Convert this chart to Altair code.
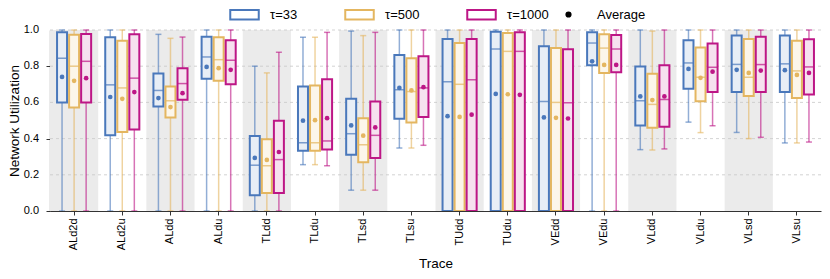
import altair as alt
import pandas as pd

traces = ["ALd2d", "ALd2u", "ALdd", "ALdu", "TLdd", "TLdu", "TLsd", "TLsu",
          "TUdd", "TUdu", "VEdd", "VEdu", "VLdd", "VLdu", "VLsd", "VLsu"]
taus = ["τ=33", "τ=500", "τ=1000"]
colors = ["#4a78bb", "#e4b660", "#bd1686"]

# tau = 33
low_33 = [0, 0, 0, 0, 0, 0.256, 0.115, 0.348, 0, 0, 0, 0, 0.339, 0.491, 0.434, 0.376]
q1_33 = [0.60, 0.418, 0.578, 0.73, 0.087, 0.333, 0.311, 0.51, 0, 0, 0, 0.805, 0.473, 0.675, 0.658, 0.658]
med_33 = [0.844, 0.697, 0.666, 0.851, 0.253, 0.377, 0.427, 0.67, 0.714, 0.895, 0.605, 0.928, 0.609, 0.818, 0.81, 0.813]
q3_33 = [0.987, 0.96, 0.76, 0.963, 0.414, 0.688, 0.62, 0.862, 0.95, 0.99, 0.91, 0.987, 0.798, 0.943, 0.969, 0.969]
high_33 = [1, 1, 0.976, 1, 0.80, 0.96, 0.994, 1, 1, 1, 1, 1, 1, 1, 1, 1]
mean_33 = [0.741, 0.63, 0.624, 0.796, 0.293, 0.499, 0.473, 0.68, 0.524, 0.647, 0.517, 0.827, 0.633, 0.785, 0.78, 0.778]

# tau = 500
low_500 = [0, 0, 0, 0, 0, 0.256, 0.115, 0.348, 0, 0, 0, 0, 0.337, 0.433, 0.40, 0.376]
q1_500 = [0.572, 0.436, 0.517, 0.719, 0.10, 0.333, 0.269, 0.489, 0, 0, 0, 0.763, 0.46, 0.607, 0.635, 0.625]
med_500 = [0.80, 0.68, 0.609, 0.836, 0.25, 0.377, 0.366, 0.66, 0.70, 0.882, 0.60, 0.90, 0.589, 0.739, 0.739, 0.774]
q3_500 = [0.974, 0.94, 0.688, 0.96, 0.396, 0.694, 0.513, 0.844, 0.928, 0.983, 0.90, 0.976, 0.758, 0.903, 0.95, 0.941]
high_500 = [1, 1, 0.954, 1, 0.763, 0.96, 0.969, 1, 1, 1, 1, 1, 0.994, 1, 1, 1]
mean_500 = [0.719, 0.62, 0.574, 0.789, 0.282, 0.502, 0.416, 0.666, 0.52, 0.645, 0.515, 0.807, 0.613, 0.736, 0.763, 0.752]

# tau = 1000
low_1000 = [0, 0, 0, 0, 0, 0.25, 0.115, 0.363, 0, 0, 0, 0, 0.343, 0.471, 0.407, 0.381]
q1_1000 = [0.60, 0.45, 0.614, 0.70, 0.10, 0.34, 0.293, 0.52, 0, 0, 0, 0.767, 0.466, 0.658, 0.657, 0.644]
med_1000 = [0.827, 0.734, 0.704, 0.833, 0.284, 0.387, 0.418, 0.68, 0.725, 0.882, 0.598, 0.895, 0.616, 0.794, 0.809, 0.796]
q3_1000 = [0.978, 0.976, 0.789, 0.943, 0.499, 0.728, 0.605, 0.855, 0.95, 0.987, 0.893, 0.972, 0.805, 0.925, 0.963, 0.949]
high_1000 = [1, 1, 0.961, 1, 0.877, 0.987, 0.987, 1, 1, 1, 1, 1, 1, 1, 1, 1]
mean_1000 = [0.734, 0.657, 0.651, 0.78, 0.326, 0.513, 0.462, 0.684, 0.532, 0.642, 0.511, 0.807, 0.633, 0.77, 0.776, 0.763]

y_ticks = [0.0, 0.2, 0.4, 0.6, 0.8, 1.0]
grid_values = [0.2, 0.4, 0.6, 0.8, 1.0]

series = {
    "τ=33": (low_33, q1_33, med_33, q3_33, high_33, mean_33),
    "τ=500": (low_500, q1_500, med_500, q3_500, high_500, mean_500),
    "τ=1000": (low_1000, q1_1000, med_1000, q3_1000, high_1000, mean_1000),
}
rows = []
for tau, (lo, a, m, b, hi, mu) in series.items():
    for i, t in enumerate(traces):
        rows.append(dict(trace=t, tau=tau, tau_f=tau, low=lo[i], q1=a[i], med=m[i], q3=b[i],
                         high=hi[i], mean=mu[i], avg="Average"))
df = pd.DataFrame(rows)
bands = pd.DataFrame({"trace": traces, "shade": [i % 2 == 0 for i in range(len(traces))]})
bands = bands[bands["shade"]]
grid = pd.DataFrame({"g": grid_values})
ylab = pd.DataFrame({"v": y_ticks})

FONT = "Liberation Sans"
# hollow rectangle (outer ring with an inner hole of opposite winding)
rect_path = "M-2.9,-1H2.9V1H-2.9Z M-2.8,-0.9V0.9H2.8V-0.9Z"

legend = alt.Legend(
    title=None, orient="none", legendX=188, legendY=-22, direction="horizontal",
    symbolType=rect_path, symbolSize=100, padding=0,
    labelFontSize=13, labelOffset=19, columnPadding=44,
    symbolStrokeWidth=1.5, symbolFillColor="white", symbolOpacity=1,
    labelFont=FONT, labelColor="black",
)
avg_legend = alt.Legend(
    title=None, orient="none", legendX=512, legendY=-22, direction="horizontal",
    symbolSize=22, symbolType="circle", padding=0,
    symbolFillColor="black", symbolStrokeColor="black", symbolOpacity=1,
    labelFontSize=13, labelOffset=22,
    labelFont=FONT, labelColor="black",
)

xenc = alt.X("trace:N", sort=traces, title="Trace",
             scale=alt.Scale(paddingInner=0, paddingOuter=0),
             axis=alt.Axis(labelAngle=-90, labelAlign="right", labelBaseline="middle",
                           tickSize=4, labelPadding=3, titlePadding=7))
xoff = alt.XOffset("tau:N", sort=taus, scale=alt.Scale(domain=taus, paddingInner=0, paddingOuter=0.5))
stroke = alt.Stroke("tau:N", scale=alt.Scale(domain=taus, range=colors), legend=legend)
fill = alt.Fill("tau_f:N", scale=alt.Scale(domain=taus, range=colors), legend=None)
yscale = alt.Scale(domain=[0, 1], nice=False, zero=True)
yaxis = alt.Axis(values=y_ticks, tickSize=4, labels=False, grid=False,
                 title="Network Utilization", titlePadding=24)

base = alt.Chart(df).encode(x=xenc, xOffset=xoff)

bg = alt.Chart(bands).mark_rect(color="#ebebeb").encode(
    x=xenc, y=alt.datum(1.0, scale=yscale, axis=yaxis), y2=alt.datum(0.0))

gridlines = alt.Chart(grid).mark_rule(color="#c8c8c8", strokeDash=[3, 3], strokeWidth=0.8).encode(
    y=alt.Y("g:Q", scale=yscale, axis=yaxis))

ytext = alt.Chart(ylab).mark_text(align="right", baseline="middle", font=FONT, fontSize=11,
                                  color="black").encode(
    y=alt.Y("v:Q", scale=yscale, axis=yaxis), x=alt.value(-11), text=alt.Text("v:Q", format=".1f"))

whisk = base.mark_rule(strokeWidth=1.5, opacity=0.6).encode(
    y=alt.Y("low:Q", scale=yscale, axis=yaxis), y2="high:Q", stroke=stroke)
cap_lo = base.mark_tick(size=6, thickness=1.5, opacity=0.6).encode(y="low:Q", fill=fill)
cap_hi = base.mark_tick(size=6, thickness=1.5, opacity=0.6).encode(y="high:Q", fill=fill)

box_white = base.mark_bar(size=10, fill="white", stroke=None).encode(y="q1:Q", y2="q3:Q")
box_tint = base.mark_bar(size=10, fillOpacity=0.13).encode(y="q1:Q", y2="q3:Q", fill=fill)
box = base.mark_bar(size=10, filled=False, strokeWidth=2).encode(y="q1:Q", y2="q3:Q", stroke=stroke)
med = base.mark_tick(size=10, thickness=1.5).encode(y="med:Q", fill=fill)
mean = base.mark_point(size=22, filled=True, opacity=1).encode(
    y="mean:Q", fill=fill,
    shape=alt.Shape("avg:N", scale=alt.Scale(domain=["Average"], range=["circle"]), legend=avg_legend))

chart = alt.layer(bg, gridlines, ytext, whisk, cap_lo, cap_hi, box_white, box_tint, box,
                  med, mean).properties(
    width=771, height=181,
    autosize=alt.AutoSizeParams(type="none"),
    padding={"left": 42, "top": 22, "right": 1, "bottom": 60},
).configure_view(stroke=None).configure_axis(
    labelFont=FONT, titleFont=FONT, labelFontSize=11, titleFontSize=13.5,
    labelColor="black", titleColor="black", titleFontWeight="normal",
    domainColor="#333333", tickColor="#333333", domainWidth=1.2
)

chart.save("out.html", embed_options={"renderer": "svg", "actions": False})
